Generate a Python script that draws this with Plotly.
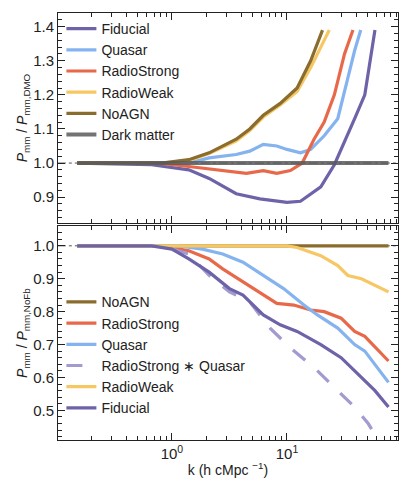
import numpy as np
import plotly.graph_objects as go

# positions in log10(k)
def lk(zx): return [(v-510)/340 for v in zx]

# top panel: P_mm / P_mm,DMO
top_fid_x = lk([230,450,560,620,700,770,850,890,950,990,1050,1080,1110])
top_fid_y = [1.0,0.995,0.98,0.955,0.91,0.895,0.885,0.888,0.93,0.995,1.13,1.2,1.39]
top_qua_x = lk([230,560,620,700,740,780,820,850,890,920,960,1000,1030,1050,1068])
top_qua_y = [1.0,1.0,1.015,1.025,1.035,1.055,1.05,1.04,1.03,1.04,1.08,1.13,1.25,1.33,1.39]
top_rs_x = lk([230,470,560,650,730,780,820,860,895,930,960,990,1020,1045])
top_rs_y = [1.0,1.0,0.99,0.98,0.97,0.978,0.97,0.978,1.0,1.07,1.12,1.2,1.32,1.39]
top_rw_x = lk([230,480,560,620,700,740,780,830,880,920,950,975])
top_rw_y = [1.0,1.0,1.008,1.028,1.065,1.095,1.135,1.17,1.21,1.28,1.34,1.39]
top_no_x = lk([230,480,560,620,700,740,780,830,880,920,955])
top_no_y = [1.0,1.0,1.01,1.03,1.07,1.1,1.14,1.175,1.22,1.3,1.39]
top_dm_x = lk([230,1150])
top_dm_y = [1.0,1.0]

# bottom panel: P_mm / P_mm,NoFb
bot_no_x = lk([230,1150]); bot_no_y = [1.0,1.0]
bot_rs_x = lk([230,480,560,620,660,720,780,820,870,920,960,1010,1050,1080,1150])
bot_rs_y = [1.0,1.0,0.985,0.96,0.93,0.89,0.85,0.825,0.82,0.805,0.8,0.78,0.74,0.725,0.65]
bot_qua_x = lk([230,530,600,660,720,780,840,900,940,1000,1050,1080,1150])
bot_qua_y = [1.0,1.0,0.99,0.975,0.95,0.91,0.87,0.82,0.79,0.75,0.7,0.68,0.585]
bot_rq_x = lk([230,480,560,620,680,740,800,860,930,990,1050,1090,1120])
bot_rq_y = [1.0,1.0,0.975,0.91,0.86,0.83,0.75,0.69,0.63,0.57,0.51,0.46,0.41]
bot_rw_x = lk([230,850,880,950,1000,1030,1070,1150])
bot_rw_y = [1.0,1.0,0.995,0.97,0.94,0.91,0.9,0.86]
bot_fid_x = lk([230,450,510,560,620,680,720,780,830,880,950,1010,1060,1110,1150])
bot_fid_y = [1.0,1.0,0.99,0.96,0.92,0.87,0.85,0.79,0.76,0.74,0.7,0.66,0.61,0.56,0.51]

C_FID = "#6d63a8"; C_QUA = "#84b3f0"; C_RS = "#e8694a"; C_RW = "#f6c762"
C_NO = "#8a6c2e"; C_DM = "#5a5a5a"; C_RQ = "#a19bd0"

fig = go.Figure()
def add(x, y, name, color, row, dash="solid", w=3.2, op=1.0):
    fig.add_trace(go.Scatter(x=[10**v for v in x], y=y, mode="lines", name=name,
                             line=dict(color=color, width=w, dash=dash), opacity=op,
                             xaxis="x" if row == 1 else "x2", yaxis="y" if row == 1 else "y2",
                             legend="legend" if row == 1 else "legend2"))

for xa, ya in (("x", "y"), ("x2", "y2")):
    fig.add_trace(go.Scatter(x=[0.1, 92], y=[1, 1], mode="lines", showlegend=False,
                             line=dict(color="#555", width=1, dash="dashdot"), xaxis=xa, yaxis=ya))

add(top_fid_x, top_fid_y, "Fiducial", C_FID, 1)
add(top_qua_x, top_qua_y, "Quasar", C_QUA, 1)
add(top_rs_x, top_rs_y, "RadioStrong", C_RS, 1)
add(top_rw_x, top_rw_y, "RadioWeak", C_RW, 1)
add(top_no_x, top_no_y, "NoAGN", C_NO, 1)
add(top_dm_x, top_dm_y, "Dark matter", C_DM, 1, w=4, op=0.85)

add(bot_no_x, bot_no_y, "NoAGN", C_NO, 2)
add(bot_rs_x, bot_rs_y, "RadioStrong", C_RS, 2)
add(bot_qua_x, bot_qua_y, "Quasar", C_QUA, 2)
add(bot_rq_x, bot_rq_y, "RadioStrong ∗ Quasar", C_RQ, 2, dash="longdash")
add(bot_rw_x, bot_rw_y, "RadioWeak", C_RW, 2)
add(bot_fid_x, bot_fid_y, "Fiducial", C_FID, 2)

# invisible traces on minor-tick axes so they render
fig.add_trace(go.Scatter(x=[1], y=[1], mode="none", showlegend=False, xaxis="x3", yaxis="y"))
fig.add_trace(go.Scatter(x=[1], y=[1], mode="none", showlegend=False, xaxis="x4", yaxis="y2"))

minor_x = [m * 10**d for d in (-1, 0, 1) for m in range(2, 10)]
XR = [-0.99, 1.965]
ax = dict(type="log", range=XR, showline=True, mirror="ticks", linecolor="#222",
          linewidth=1, ticks="inside", ticklen=7, tickcolor="#222", showgrid=False, zeroline=False,
          tickvals=[1, 10], ticktext=["10<sup>0</sup>", "10<sup>1</sup>"], tickfont=dict(size=15))
axm = dict(type="log", range=XR, showline=False, mirror="ticks", ticks="inside", ticklen=4,
           tickcolor="#222", showgrid=False, zeroline=False, tickvals=minor_x,
           showticklabels=False, domain=[0, 1])
ay = dict(showline=True, mirror="ticks", linecolor="#222", linewidth=1, ticks="inside",
          ticklen=7, tickcolor="#222", showgrid=False, zeroline=False, tickformat=".1f",
          dtick=0.1, minor=dict(ticks="inside", ticklen=4, tickcolor="#222", dtick=0.02),
          tickfont=dict(size=15), title_standoff=2, automargin=False)
lg = dict(x=0.01, xanchor="left", bgcolor="rgba(0,0,0,0)", font=dict(size=14, color="#222"),
          tracegroupgap=0, itemwidth=30)
fig.update_layout(
    width=408, height=478, margin=dict(l=50, r=18, t=5, b=46),
    plot_bgcolor="white", paper_bgcolor="white",
    font=dict(family="Liberation Sans, Arial", size=14, color="#222"),
    xaxis=dict(ax, domain=[0, 1], anchor="y", showticklabels=False),
    xaxis3=dict(axm, anchor="y", overlaying="x"),
    yaxis=dict(ay, domain=[0.508, 1.0], range=[0.824, 1.44], anchor="x",
               title=dict(text="<i>P</i><sub>mm</sub> / <i>P</i><sub>mm,DMO</sub>", font=dict(size=14))),
    xaxis2=dict(ax, domain=[0, 1], anchor="y2",
                title=dict(text="k (h cMpc <sup>−1</sup>)", font=dict(size=14), standoff=4)),
    xaxis4=dict(axm, anchor="y2", overlaying="x2"),
    yaxis2=dict(ay, domain=[0, 0.501], range=[0.41, 1.06], anchor="x2",
                title=dict(text="<i>P</i><sub>mm</sub> / <i>P</i><sub>mm,NoFb</sub>", font=dict(size=14))),
    legend=dict(lg, y=1.0, yanchor="top"),
    legend2=dict(lg, y=0.36, yanchor="top"),
)
fig.write_html("out.html")
